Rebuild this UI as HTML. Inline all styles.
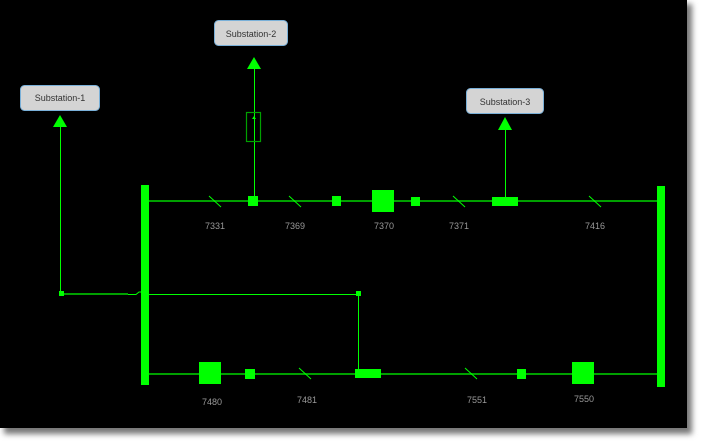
<!DOCTYPE html>
<html><head><meta charset="utf-8"><style>
html,body{margin:0;padding:0;background:#fff;width:701px;height:444px;overflow:hidden}
svg{display:block}
text{font-family:"Liberation Sans",sans-serif}
</style></head><body>
<svg width="701" height="444" viewBox="0 0 701 444">
<defs><filter id="sh" x="-5%" y="-5%" width="115%" height="115%"><feGaussianBlur stdDeviation="3"/></filter></defs>
<rect x="4" y="4" width="688" height="430" fill="#777" filter="url(#sh)"/>
<rect x="0" y="0" width="687" height="428" fill="#000"/>
<!-- main lines -->
<line x1="149" y1="201" x2="657" y2="201" stroke="#00a000" stroke-width="2"/>
<line x1="149" y1="374" x2="657" y2="374" stroke="#00a000" stroke-width="2"/>
<!-- buses -->
<rect x="141" y="185" width="8" height="200" fill="#00ff00"/>
<rect x="657" y="186" width="8" height="201" fill="#00ff00"/>
<!-- substations -->
<g font-size="9" fill="#333" text-anchor="middle">
<rect x="20.5" y="85.5" width="79" height="25" rx="4" fill="#d4d4d4" stroke="#7ab0d8"/>
<text x="60" y="101">Substation-1</text>
<rect x="214.5" y="20.5" width="73" height="25" rx="4" fill="#d4d4d4" stroke="#7ab0d8"/>
<text x="251" y="37">Substation-2</text>
<rect x="466.5" y="88.5" width="77" height="25" rx="4" fill="#d4d4d4" stroke="#7ab0d8"/>
<text x="505" y="105">Substation-3</text>
</g>
<!-- arrows -->
<polygon points="60,115 53,127 67,127" fill="#00ff00"/>
<polygon points="254,57 247,69 261,69" fill="#00ff00"/>
<polygon points="505,117 498,130 512,130" fill="#00ff00"/>
<g stroke="#00ff00" stroke-width="1" fill="none">
<line x1="60.5" y1="127" x2="60.5" y2="294"/>
<line x1="254.5" y1="69" x2="254.5" y2="198"/>
<line x1="505.5" y1="130" x2="505.5" y2="198"/>
<polyline points="149,294.5 358.5,294.5 358.5,372"/>
<polyline points="128,294.5 136,294.5 139,292 141,292"/>
</g>
<line x1="62" y1="294" x2="128" y2="294" stroke="#00a000" stroke-width="2"/>
<rect x="246.5" y="112.5" width="14" height="29" fill="none" stroke="#00a000" stroke-width="1.2"/>
<polygon points="254,116 252,119 256,119" fill="#00ff00"/>
<rect x="59" y="291" width="5" height="5" fill="#00ff00"/>
<rect x="356" y="291" width="5" height="5" fill="#00ff00"/>
<!-- top elements -->
<g fill="#00ff00">
<rect x="248" y="196" width="10" height="10"/>
<rect x="332" y="196" width="9" height="10"/>
<rect x="372" y="190" width="22" height="22"/>
<rect x="411" y="197" width="9" height="9"/>
<rect x="492" y="197" width="26" height="9"/>
<rect x="199" y="362" width="22" height="22"/>
<rect x="245" y="369" width="10" height="10"/>
<rect x="355" y="369" width="26" height="9"/>
<rect x="517" y="369" width="9" height="10"/>
<rect x="572" y="362" width="22" height="22"/>
</g>
<g stroke="#00ff00" stroke-width="1">
<line x1="209" y1="196" x2="221" y2="207"/>
<line x1="289" y1="196" x2="301" y2="207"/>
<line x1="453" y1="196" x2="465" y2="207"/>
<line x1="589" y1="196" x2="601" y2="207"/>
<line x1="299" y1="368" x2="311" y2="379"/>
<line x1="465" y1="368" x2="477" y2="379"/>
</g>
<g font-size="9" fill="#999" text-anchor="middle">
<text x="215" y="229">7331</text>
<text x="295" y="229">7369</text>
<text x="384" y="229">7370</text>
<text x="459" y="229">7371</text>
<text x="595" y="229">7416</text>
<text x="212" y="405">7480</text>
<text x="307" y="403">7481</text>
<text x="477" y="403">7551</text>
<text x="584" y="402">7550</text>
</g>
</svg>
</body></html>
